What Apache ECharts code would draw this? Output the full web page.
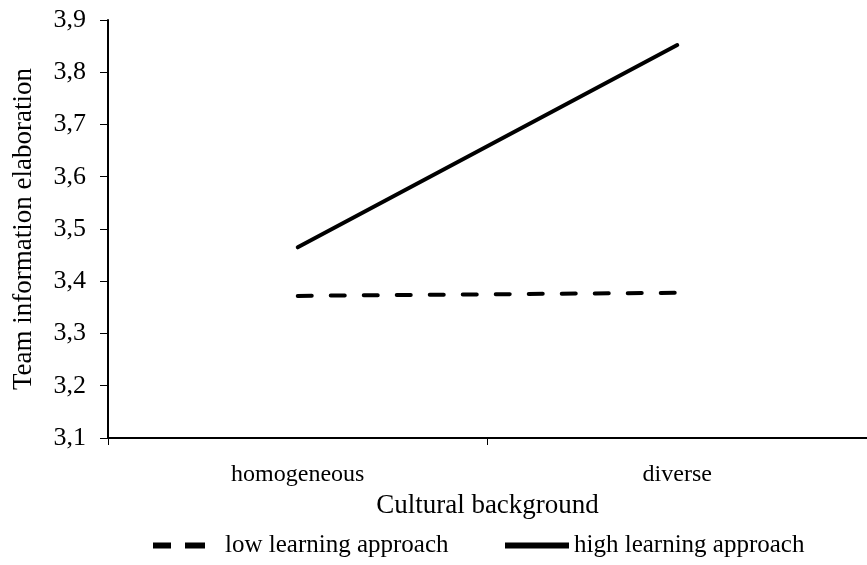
<!DOCTYPE html>
<html><head><meta charset="utf-8">
<script src="https://cdn.jsdelivr.net/npm/echarts@6/dist/echarts.min.js"></script>
<style>html,body{margin:0;padding:0;background:#fff}#c{width:867px;height:565px}</style>
</head><body><div id="c"></div>
<script>
var categories = ['homogeneous', 'diverse'];
var lowLearning = [3.372, 3.378];
var highLearning = [3.465, 3.852];
var yTicks = {min: 3.1, max: 3.9, interval: 0.1};
var font = '"Liberation Serif", "Times New Roman", serif';
var chart = echarts.init(document.getElementById('c'));
chart.setOption({
  animation: false,
  grid: {left: 108, top: 20, width: 768, bottom: 127, containLabel: false},
  xAxis: {
    type: 'category', data: categories, boundaryGap: true,
    name: 'Cultural background', nameLocation: 'middle', nameGap: 54,
    nameTextStyle: {fontFamily: font, fontSize: 27, color: '#000'},
    axisLine: {lineStyle: {color: '#000', width: 2}},
    axisTick: {show: true, length: 7, lineStyle: {color: '#000', width: 1}},
    axisLabel: {fontFamily: font, fontSize: 24, color: '#000', margin: 25}
  },
  yAxis: {
    type: 'value', min: yTicks.min, max: yTicks.max, interval: yTicks.interval,
    name: 'Team information elaboration', nameLocation: 'middle', nameGap: 71,
    nameTextStyle: {fontFamily: font, fontSize: 27, color: '#000'},
    axisLine: {show: true, lineStyle: {color: '#000', width: 2}},
    axisTick: {show: true, length: 8, lineStyle: {color: '#000', width: 1}},
    splitLine: {show: false},
    axisLabel: {fontFamily: font, fontSize: 26, color: '#000', margin: 22,
      formatter: function (v) { return v.toFixed(1).replace('.', ','); }}
  },
  legend: [{
    data: [{name: 'low learning approach', icon: 'path://M0,0H18V6H0Z M32,0H52V6H32Z'}],
    left: 148, top: 528, itemWidth: 52, itemHeight: 6,
    itemStyle: {color: '#000'},
    textStyle: {fontFamily: font, fontSize: 25, color: '#000', padding: [0, 0, 0, 15]}
  }, {
    data: [{name: 'high learning approach', icon: 'path://M0,0H64V6H0Z'}],
    left: 500, top: 528, itemWidth: 64, itemHeight: 6,
    itemStyle: {color: '#000'},
    textStyle: {fontFamily: font, fontSize: 25, color: '#000', padding: 0}
  }],
  series: [{
    name: 'low learning approach', type: 'line', data: lowLearning,
    symbol: 'none', color: '#000',
    lineStyle: {color: '#000', width: 4, type: [14, 19], cap: 'round'}
  }, {
    name: 'high learning approach', type: 'line', data: highLearning,
    symbol: 'none', color: '#000',
    lineStyle: {color: '#000', width: 4, cap: 'round'}
  }]
});
</script></body></html>
